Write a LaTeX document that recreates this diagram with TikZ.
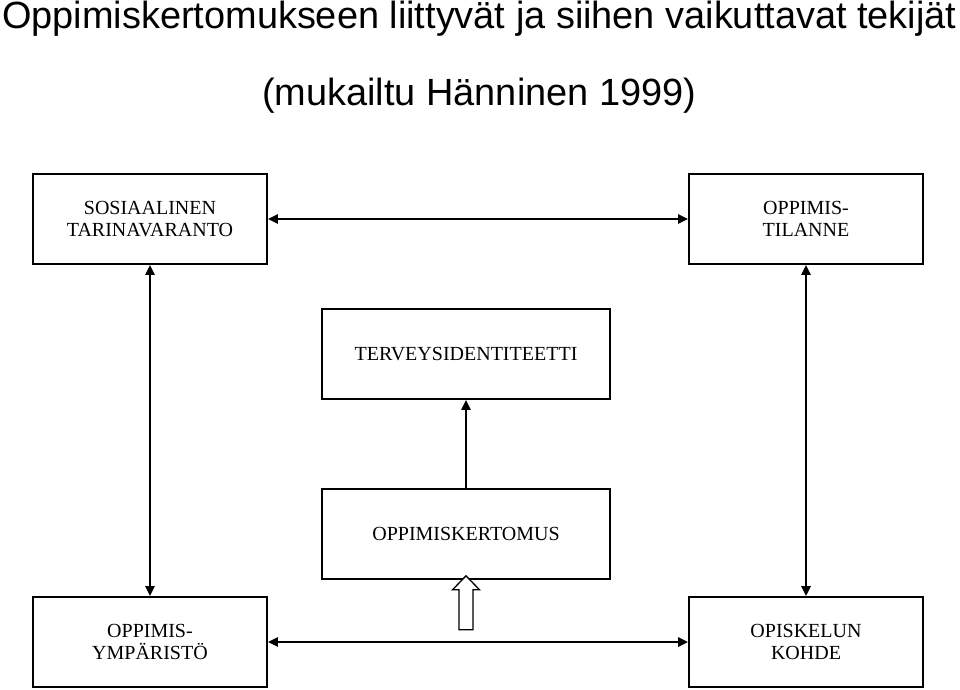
\documentclass[tikz,border=0pt]{standalone}
\usepackage{fontspec}
\setmainfont{Liberation Serif}
\newfontfamily\titlefont{Liberation Sans}
\usetikzlibrary{arrows.meta}
\begin{document}
\begin{tikzpicture}[x=1pt,y=-1pt,
  boxnode/.style={draw=black,line width=1.6pt,rectangle,minimum width=234pt,minimum height=90pt,inner sep=0pt,align=center,font=\fontsize{20}{22}\selectfont},
  widebox/.style={boxnode,minimum width=288pt},
  conn/.style={line width=2.4pt,-{Triangle[length=10pt,width=9pt]}},
  dconn/.style={line width=2.4pt,{Triangle[length=10pt,width=9pt]}-{Triangle[length=10pt,width=9pt]}},
  titletext/.style={font=\titlefont\fontsize{37.9}{40}\selectfont,inner sep=0pt,anchor=base west}]
\useasboundingbox (0,0) rectangle (960,689);
\node[titletext] (t1) at (2,28.5) {Oppimiskertomukseen liittyvät ja siihen vaikuttavat tekijät};
\node[titletext] (t2) at (262,105.7) {(mukailtu Hänninen 1999)};
\node[boxnode] (b1) at (150,219) {SOSIAALINEN\\TARINAVARANTO};
\node[boxnode] (b2) at (806,219) {OPPIMIS-\\TILANNE};
\node[widebox] (b3) at (466,354) {TERVEYSIDENTITEETTI};
\node[widebox] (b4) at (466,534) {OPPIMISKERTOMUS};
\node[boxnode] (b5) at (150,642) {OPPIMIS-\\YMPÄRISTÖ};
\node[boxnode] (b6) at (806,642) {OPISKELUN\\KOHDE};
\draw[dconn] (b1.east) -- (b2.west);
\draw[dconn] (b1.south) -- (b5.north);
\draw[dconn] (b2.south) -- (b6.north);
\draw[dconn] (b5.east) -- (b6.west);
\draw[conn] (b4.north) -- (b3.south);
\coordinate (tip) at ([yshift=4pt]b4.south);
\draw[line width=1.3pt,fill=white] (tip) -- ++(13.5,14) -- ++(-6.5,0) -- ++(0,40) -- ++(-14,0) -- ++(0,-40) -- ++(-6.5,0) -- cycle;
\end{tikzpicture}
\end{document}
